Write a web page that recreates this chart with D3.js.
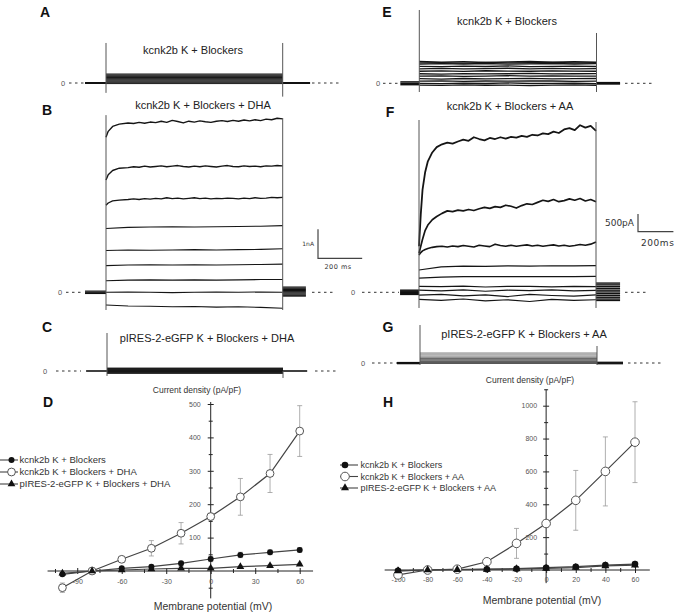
<!DOCTYPE html>
<html><head><meta charset="utf-8">
<script src="https://cdn.jsdelivr.net/npm/d3@7"></script>
<style>
body{margin:0;background:#fff;}
svg{display:block;font-family:"Liberation Sans",Arial,sans-serif;}
</style>
</head><body>
<svg id="c" width="685" height="614"></svg>
<script>
// ================= DATA =================
// ---- I-V curves (pA/pF) ----
const ivVoltages = [-100,-80,-60,-40,-20,0,20,40,60];
const dKcnk2b       = [-10,0,8,13,23,36,48,56,63];
const dKcnk2bErr    = [5,3,4,5,6,8,8,7,7];
const dKcnk2bDHA    = [-50,0,35,68,113,163,222,292,419];
const dKcnk2bDHAErr = [14,4,8,23,32,10,55,57,76];
const dIRESDHA      = [-7,0,3,6,8,8,13,16,20];
const dIRESDHAErr   = [3,2,2,3,6,4,3,3,3];
const hKcnk2b       = [-5,0,3,5,8,14,20,30,36];
const hKcnk2bErr    = [6,3,3,4,5,6,8,10,12];
const hKcnk2bAA     = [-30,0,5,50,162,283,424,600,778];
const hKcnk2bAAErr  = [10,5,6,10,91,20,182,210,246];
const hIRESAA       = [-5,0,2,4,6,10,15,25,30];
const hIRESAAErr    = [4,2,2,3,3,4,5,6,6];
const dTicksX = [-90,-60,-30,0,30,60];
const dTicksY = [100,200,300,400,500];
const hTicksX = [-100,-80,-60,-40,-20,0,20,40,60];
const hTicksY = [200,400,600,800,1000];
const dLegendLabels = ["kcnk2b K + Blockers","kcnk2b K + Blockers + DHA","pIRES-2-eGFP K + Blockers + DHA"];
const hLegendLabels = ["kcnk2b K + Blockers","kcnk2b K + Blockers + AA","pIRES-2-eGFP K + Blockers + AA"];

// ---- current traces (left panels nA, right panels pA; time in ms) ----
const timeFineL   = [0,10,30,60,100,125,150,175,200,225,250,275,300,325,350,375,400,425,450,475,500,525,550,575,600,625,650,675,700,725,750,775,800];
const timeCoarseL = [0,100,200,300,400,500,600,700,800];
const timeFineR   = [0,10,20,35,50,75,100,130,160,190,220,250,280,310,340,370,400,430,460,490,520,550,580,610,640,670,700,730,760,790,820,850,880,910,940,970,1000];
const timeCoarseR = [0,125,250,375,500,625,750,875,1000];

const aLevels = [0.31,0.28,0.25,0.22,0.19,0.16,0.13,0.10,0.07,0.04,0.01,-0.02];
const bSweep1 = [5.35,5.55,5.72,5.80,5.84,5.82,5.86,5.83,5.87,5.85,5.90,5.86,5.93,5.89,5.84,5.90,5.87,5.91,5.88,5.86,5.90,5.92,5.89,5.93,5.90,5.94,5.91,5.95,5.92,5.97,5.95,6.00,5.98];
const bSweep2 = [3.87,4.05,4.20,4.28,4.30,4.33,4.31,4.35,4.32,4.34,4.36,4.33,4.35,4.37,4.34,4.32,4.35,4.33,4.36,4.34,4.32,4.35,4.37,4.34,4.33,4.36,4.34,4.35,4.33,4.36,4.35,4.37,4.36];
const bSweep3 = [3.00,3.08,3.15,3.18,3.20,3.22,3.20,3.23,3.21,3.24,3.22,3.26,3.23,3.25,3.22,3.24,3.26,3.23,3.25,3.22,3.24,3.23,3.25,3.24,3.22,3.25,3.23,3.26,3.24,3.25,3.27,3.26,3.27];
const bSweepsFlat = [
  [2.20,2.24,2.25,2.26,2.25,2.26,2.27,2.28,2.30],
  [1.44,1.46,1.45,1.46,1.47,1.46,1.47,1.48,1.50],
  [0.92,0.94,0.95,0.94,0.95,0.94,0.95,0.96,0.97],
  [0.40,0.42,0.43,0.42,0.43,0.42,0.43,0.44,0.44],
  [0.00,0.01,0.00,-0.01,0.00,0.01,0.00,0.01,0.00],
  [-0.44,-0.47,-0.48,-0.50,-0.49,-0.51,-0.50,-0.52,-0.55]
];
const bHold = [0.04,0,-0.04];
const bTail = [0.18,0.14,0.10,0.06,0.02,-0.02,-0.06,-0.10,-0.13];
const cLevels = [0.10,0.08,0.06,0.04,0.02,0,-0.02,-0.04,-0.06,-0.08];

const eSweeps = [
  [620,600,615,590,605,620,595,610,600],
  [575,585,570,590,575,580,590,575,585],
  [540,555,545,560,540,550,560,545,555],
  [480,470,485,475,490,470,480,485,475],
  [410,420,405,415,425,410,420,405,415],
  [340,350,335,355,345,340,350,345,340],
  [270,260,275,265,270,280,265,270,275],
  [200,210,195,205,215,200,210,205,200],
  [130,120,135,125,130,140,125,130,135],
  [60,70,55,65,60,70,65,55,60],
  [0,-10,5,-5,10,-5,0,5,-10],
  [-50,-60,-45,-55,-50,-65,-50,-45,-55]
];
const eHold = [40,0,-40];
const fSweep1 = [1300,2200,2900,3400,3700,3950,4100,4180,4230,4200,4260,4310,4280,4380,4330,4290,4360,4330,4380,4340,4390,4370,4420,4390,4450,4430,4490,4470,4540,4500,4600,4640,4580,4720,4650,4700,4560];
const fSweep2 = [1100,1300,1500,1750,1900,2050,2140,2230,2300,2280,2320,2300,2340,2310,2360,2400,2370,2420,2400,2460,2430,2380,2450,2500,2480,2540,2600,2570,2620,2560,2590,2640,2600,2650,2580,2620,2560];
const fSweep3 = [1050,1120,1170,1210,1240,1270,1290,1300,1280,1310,1290,1320,1300,1280,1330,1310,1290,1360,1320,1300,1330,1300,1320,1340,1310,1330,1300,1320,1340,1310,1330,1300,1320,1350,1330,1360,1420];
const fSweepsFlat = [
  [630,720,740,735,745,740,750,745,755],
  [400,430,440,445,440,445,440,445,450],
  [170,160,175,150,165,170,155,165,160],
  [60,40,70,30,60,45,70,40,55],
  [-80,-60,-100,-70,-120,-60,-90,-110,-70],
  [-200,-230,-190,-240,-210,-260,-200,-230,-210]
];
const fHold = [60,30,0,-30,-60];
const fTail = [260,210,160,110,60,10,-40,-90,-140,-190,-230];
const gLevels = [285,255,225,190,155,120,85,50,20,-10];
const gHold = [10,-15];

// capacitive transients [top, bottom] at step on / step off
const aOn = [1.38,-0.34], aOff = [1.38,-0.47];
const bOn = [6.11,-0.61], bOff = [6.01,-0.61];
const cOn = [1.31,-0.17], cOff = [0,-0.24];
const eOn = [2071,-246], eOff = [1421,-246];
const fOn = [4867,-443], fOff = [4810,-443];
const gOn = [1073,-56], gOff = [480,-56];

const traceTitles = ["kcnk2b K + Blockers","kcnk2b K + Blockers + DHA","pIRES-2-eGFP K + Blockers + DHA",
                     "kcnk2b K + Blockers","kcnk2b K + Blockers + AA","pIRES-2-eGFP  K + Blockers + AA"];
const panelLetters = ["A","B","C","E","F","G","D","H"];

// ================= DRAW =================
const svg = d3.select("#c");

function flat(times, level){ return {t:[times[0], times[times.length-1]], v:[level, level]}; }

const tracePanels = [
  {letter:0, x0:106, x1:282.7, dur:800, zeroY:83, ppu:29, pre:-95, post:924,
   hold:[0], holdW:2, tail:[0], tailW:2, on:aOn, off:aOff,
   sweeps: aLevels.map(l => Object.assign(flat(timeCoarseL,l),{w:1.0,c:"#1a1a1a"})),
   dashPre:[69,86], dashPost:[312,341], zeroX:63, title:[193,50], letterXY:[45,12]},
  {letter:1, x0:106, x1:282.7, dur:800, zeroY:292.3, ppu:29, pre:-95, post:905,
   hold:bHold, holdW:1.2, tail:bTail, tailW:1.2, on:bOn, off:bOff,
   sweeps: [ {t:timeFineL,v:bSweep1,w:1.4}, {t:timeFineL,v:bSweep2,w:1.4}, {t:timeFineL,v:bSweep3,w:1.3} ]
     .concat(bSweepsFlat.map(s => ({t:timeCoarseL, v:s, w:1.1}))),
   dashPre:[66,84], dashPost:[312,334], zeroX:60, title:[203,105], letterXY:[47,110],
   bar:{x:318, unit:1, ms:200, label:"1nA", tlabel:"200 ms", yBottom:258.3}},
  {letter:2, x0:107, x1:283, dur:800, zeroY:371, ppu:29, pre:-95, post:910,
   hold:[0], holdW:1.6, tail:[0], tailW:1.6, on:cOn, off:cOff,
   sweeps: cLevels.map(l => Object.assign(flat(timeCoarseL,l),{w:1.0,c:"#111"})),
   dashPre:[56,81], dashPost:[315,336], zeroX:45, title:[207,338], letterXY:[47,327]},
  {letter:3, x0:419.3, x1:596.5, dur:1000, zeroY:83.3, ppu:0.0354, pre:-107, post:1133,
   hold:eHold, holdW:1.4, tail:[20,0,-20], tailW:1.4, on:eOn, off:eOff,
   sweeps: eSweeps.map(s => ({t:timeCoarseR, v:s, w:1.3})),
   dashPre:[383,399], dashPost:[625,653], zeroX:378, title:[507,21], letterXY:[387,12]},
  {letter:4, x0:419, x1:596, dur:1000, zeroY:292.3, ppu:0.0354, pre:-107, post:1136,
   hold:fHold, holdW:1.4, tail:fTail, tailW:1.4, on:fOn, off:fOff,
   sweeps: [ {t:timeFineR,v:fSweep1,w:1.8}, {t:timeFineR,v:fSweep2,w:1.7}, {t:timeFineR,v:fSweep3,w:1.6} ]
     .concat(fSweepsFlat.map(s => ({t:timeCoarseR, v:s, w:1.2}))),
   dashPre:[362,399], dashPost:[625,646], zeroX:353, title:[510,106], letterXY:[390,112],
   bar:{x:638, unit:500, ms:200, label:"500pA", tlabel:"200ms", yBottom:231.7}},
  {letter:5, x0:420, x1:597, dur:1000, zeroY:363, ppu:0.0354, pre:-130, post:1147,
   hold:gHold, holdW:1.5, tail:[20,0,-20], tailW:1.3, on:gOn, off:gOff,
   sweeps: gLevels.map((l,i) => Object.assign(flat(timeCoarseR,l),{w:0.9,c: i<5 ? "#8a8a8a" : "#222"})),
   dashPre:[372,397], dashPost:[628,661], zeroX:363, title:[524,334], letterXY:[388,327]}
];

tracePanels.forEach(p => {
  const x = d3.scaleLinear().domain([0, p.dur]).range([p.x0, p.x1]);
  const y = d3.scaleLinear().domain([0, 1]).range([p.zeroY, p.zeroY - p.ppu]);
  const g = svg.append("g");
  [p.dashPre, p.dashPost].forEach(d => {
    g.append("line").attr("x1", d[0]).attr("x2", d[1]).attr("y1", p.zeroY).attr("y2", p.zeroY)
      .attr("stroke", "#333").attr("stroke-width", 1).attr("stroke-dasharray", "2.5,3.5");
  });
  g.append("text").attr("x", p.zeroX).attr("y", p.zeroY).attr("dy", "0.35em")
    .attr("text-anchor", "middle").attr("font-size", 7.5).attr("fill", "#555").text("0");
  p.hold.forEach(h => g.append("line").attr("x1", x(p.pre)).attr("x2", x(0)).attr("y1", y(h)).attr("y2", y(h))
    .attr("stroke", "#111").attr("stroke-width", p.holdW));
  p.tail.forEach(h => g.append("line").attr("x1", x(p.dur)).attr("x2", x(p.post)).attr("y1", y(h)).attr("y2", y(h))
    .attr("stroke", "#111").attr("stroke-width", p.tailW));
  const line = d3.line().x(d => x(d[0])).y(d => y(d[1]));
  p.sweeps.forEach(s => {
    g.append("path").attr("d", line(d3.zip(s.t, s.v))).attr("fill", "none")
      .attr("stroke", s.c || "#151515").attr("stroke-width", s.w || 1.1).attr("stroke-linejoin", "round");
  });
  g.append("line").attr("x1", x(0)).attr("x2", x(0)).attr("y1", y(p.on[0])).attr("y2", y(p.on[1]))
    .attr("stroke", "#555").attr("stroke-width", 1);
  g.append("line").attr("x1", x(p.dur)).attr("x2", x(p.dur)).attr("y1", y(p.off[0])).attr("y2", y(p.off[1]))
    .attr("stroke", "#555").attr("stroke-width", 1);
  g.append("text").attr("x", p.title[0]).attr("y", p.title[1]).attr("dy", "0.35em").attr("text-anchor", "middle")
    .attr("font-size", 11).attr("fill", "#222").text(traceTitles[p.letter]);
  g.append("text").attr("x", p.letterXY[0]).attr("y", p.letterXY[1]).attr("dy", "0.35em").attr("text-anchor", "middle")
    .attr("font-size", 14).attr("font-weight", "bold").attr("fill", "#111").text(panelLetters[p.letter]);
  if (p.bar) {
    const b = p.bar;
    const t0 = x.invert(b.x), v0 = y.invert(b.yBottom);
    const bx0 = x(t0), bx1 = x(t0 + b.ms), by0 = y(v0), by1 = y(v0 + b.unit);
    g.append("path").attr("d", `M${bx0},${by1}L${bx0},${by0}L${bx1},${by0}`).attr("fill", "none")
      .attr("stroke", "#444").attr("stroke-width", 1.2);
    const small = b.label === "1nA";
    g.append("text").attr("x", bx0 - 4).attr("y", (by0 + by1) / 2).attr("dy", "0.35em").attr("text-anchor", "end")
      .attr("font-family", "DejaVu Sans").attr("font-size", small ? 6 : 9).attr("fill", "#333").text(b.label);
    g.append("text").attr("x", (bx0 + bx1) / 2 + (small ? -2 : 2)).attr("y", by0 + (small ? 8 : 11)).attr("dy", "0.35em").attr("text-anchor", "middle")
      .attr("font-family", "DejaVu Sans").attr("font-size", small ? 6.5 : 9).attr("letter-spacing", small ? 0.5 : 0.6)
      .attr("fill", "#333").text(b.tlabel);
  }
});

// ---------- I-V panels ----------
function ivPanel(o) {
  const x = d3.scaleLinear().domain([-100, 60]).range(o.xRange);
  const y = d3.scaleLinear().domain(o.yDom).range(o.yRange);
  const g = svg.append("g");
  const y0 = y(0), x0 = x(0);
  g.append("line").attr("x1", x(o.xExt[0])).attr("x2", x(o.xExt[1])).attr("y1", y0).attr("y2", y0).attr("stroke", "#222");
  g.append("line").attr("x1", x0).attr("x2", x0).attr("y1", y(o.yExt[0])).attr("y2", y(o.yExt[1])).attr("stroke", "#222");
  const styleAxis = sel => { sel.select(".domain").remove(); sel.selectAll("line").attr("stroke", "#222");
    sel.selectAll("text").attr("font-size", 7).attr("fill", "#555").attr("font-family", "Liberation Sans, Arial"); };
  g.append("g").attr("transform", `translate(0,${y0})`)
    .call(d3.axisBottom(x).tickValues(o.xMajor).tickSize(3).tickPadding(o.xPad).tickFormat(d => String(d))).call(styleAxis);
  g.append("g").attr("transform", `translate(0,${y0})`)
    .call(d3.axisTop(x).tickValues(o.xMajor).tickSize(3).tickFormat("")).call(styleAxis);
  g.append("g").attr("transform", `translate(0,${y0})`)
    .call(d3.axisBottom(x).tickValues(o.xMinor).tickSize(2).tickFormat("")).call(styleAxis);
  g.append("g").attr("transform", `translate(0,${y0})`)
    .call(d3.axisTop(x).tickValues(o.xMinor).tickSize(2).tickFormat("")).call(styleAxis);
  g.append("g").attr("transform", `translate(${x0},0)`)
    .call(d3.axisLeft(y).tickValues(o.yMajor).tickSize(3).tickPadding(o.yPad).tickFormat(d => String(d))).call(styleAxis);
  g.append("g").attr("transform", `translate(${x0},0)`)
    .call(d3.axisRight(y).tickValues(o.yMajor).tickSize(3).tickFormat("")).call(styleAxis);
  g.append("g").attr("transform", `translate(${x0},0)`)
    .call(d3.axisLeft(y).tickValues(o.yMinor).tickSize(2).tickFormat("")).call(styleAxis);
  g.append("g").attr("transform", `translate(${x0},0)`)
    .call(d3.axisRight(y).tickValues(o.yMinor).tickSize(2).tickFormat("")).call(styleAxis);

  const line = d3.line().x(d => x(d[0])).y(d => y(d[1]));
  const tri = d3.symbol().type(d3.symbolTriangle).size(o.triSize);
  const drawMarker = (sel, kind, cx, cy) => {
    if (kind === "tri") sel.append("path").attr("d", tri()).attr("transform", `translate(${cx},${cy})`).attr("fill", "#111");
    else if (kind === "open") sel.append("circle").attr("cx", cx).attr("cy", cy).attr("r", o.rOpen).attr("fill", "#fff").attr("stroke", "#555").attr("stroke-width", 1);
    else sel.append("circle").attr("cx", cx).attr("cy", cy).attr("r", o.rFilled).attr("fill", "#111");
  };
  o.series.forEach(s => {
    s.v.forEach((v, i) => {
      const e = s.e[i]; if (!e) return;
      const cx = x(ivVoltages[i]);
      g.append("path").attr("d", `M${cx},${y(v - e)}V${y(v + e)}M${cx - 2.5},${y(v + e)}H${cx + 2.5}M${cx - 2.5},${y(v - e)}H${cx + 2.5}`)
        .attr("stroke", "#9a9a9a").attr("stroke-width", 0.8).attr("fill", "none");
    });
  });
  o.series.forEach(s => {
    g.append("path").attr("d", line(d3.zip(ivVoltages, s.v))).attr("fill", "none").attr("stroke", "#444").attr("stroke-width", 1.2);
  });
  o.series.forEach(s => {
    s.v.forEach((v, i) => drawMarker(g, s.kind, x(ivVoltages[i]), y(v)));
  });
  o.series.forEach((s, i) => {
    const ly = o.legY[i];
    g.append("line").attr("x1", o.legX[0]).attr("x2", o.legX[1]).attr("y1", ly).attr("y2", ly).attr("stroke", "#444").attr("stroke-width", 1.1);
    drawMarker(g, s.kind, o.legMarkX, ly);
    g.append("text").attr("x", o.legTextX).attr("y", ly).attr("dy", "0.35em").attr("font-size", o.legFont)
      .attr("fill", "#333").text(o.legLabels[i]);
  });
  g.append("text").attr("x", o.yTitle[0]).attr("y", o.yTitle[1]).attr("dy", "0.35em").attr("text-anchor", "middle")
    .attr("font-size", 8.5).attr("fill", "#333").text("Current density (pA/pF)");
  g.append("text").attr("x", o.xTitle[0]).attr("y", o.xTitle[1]).attr("dy", "0.35em").attr("text-anchor", "middle")
    .attr("font-size", 10.5).attr("fill", "#333").text("Membrane potential (mV)");
  g.append("text").attr("x", o.letterXY[0]).attr("y", o.letterXY[1]).attr("dy", "0.35em").attr("text-anchor", "middle")
    .attr("font-size", 14).attr("font-weight", "bold").attr("fill", "#111").text(o.letter);
}

ivPanel({
  xRange: [62.4, 299.7], yDom: [0, 500], yRange: [571, 404],
  xExt: [-110, 69], yExt: [-82, 506],
  xMajor: dTicksX, xMinor: [-105,-75,-45,-15,15,45], xPad: 5,
  yMajor: dTicksY, yMinor: [-50,50,150,250,350,450], yPad: 7,
  triSize: 26, rOpen: 3.9, rFilled: 3,
  series: [
    {v: dKcnk2b, e: dKcnk2bErr, kind: "filled"},
    {v: dKcnk2bDHA, e: dKcnk2bDHAErr, kind: "open"},
    {v: dIRESDHA, e: dIRESDHAErr, kind: "tri"}
  ],
  legY: [460, 472, 484], legX: [0, 18], legMarkX: 11.5, legTextX: 19.5, legFont: 9.5, legLabels: dLegendLabels,
  yTitle: [197, 390], xTitle: [213, 606], letter: panelLetters[6], letterXY: [48, 402]
});

ivPanel({
  xRange: [398, 635], yDom: [0, 1000], yRange: [570, 405.7],
  xExt: [-109, 70], yExt: [-80, 1100],
  xMajor: hTicksX, xMinor: [-90,-70,-50,-30,-10,10,30,50], xPad: 4.5,
  yMajor: hTicksY, yMinor: [100,300,500,700,900,1100], yPad: 6,
  triSize: 28, rOpen: 4.3, rFilled: 3.3,
  series: [
    {v: hKcnk2b, e: hKcnk2bErr, kind: "filled"},
    {v: hKcnk2bAA, e: hKcnk2bAAErr, kind: "open"},
    {v: hIRESAA, e: hIRESAAErr, kind: "tri"}
  ],
  legY: [465, 476.5, 488], legX: [340, 358], legMarkX: 345, legTextX: 360.5, legFont: 9, legLabels: hLegendLabels,
  yTitle: [530, 380], xTitle: [542, 600], letter: panelLetters[7], letterXY: [388, 402]
});
</script>
</body></html>
